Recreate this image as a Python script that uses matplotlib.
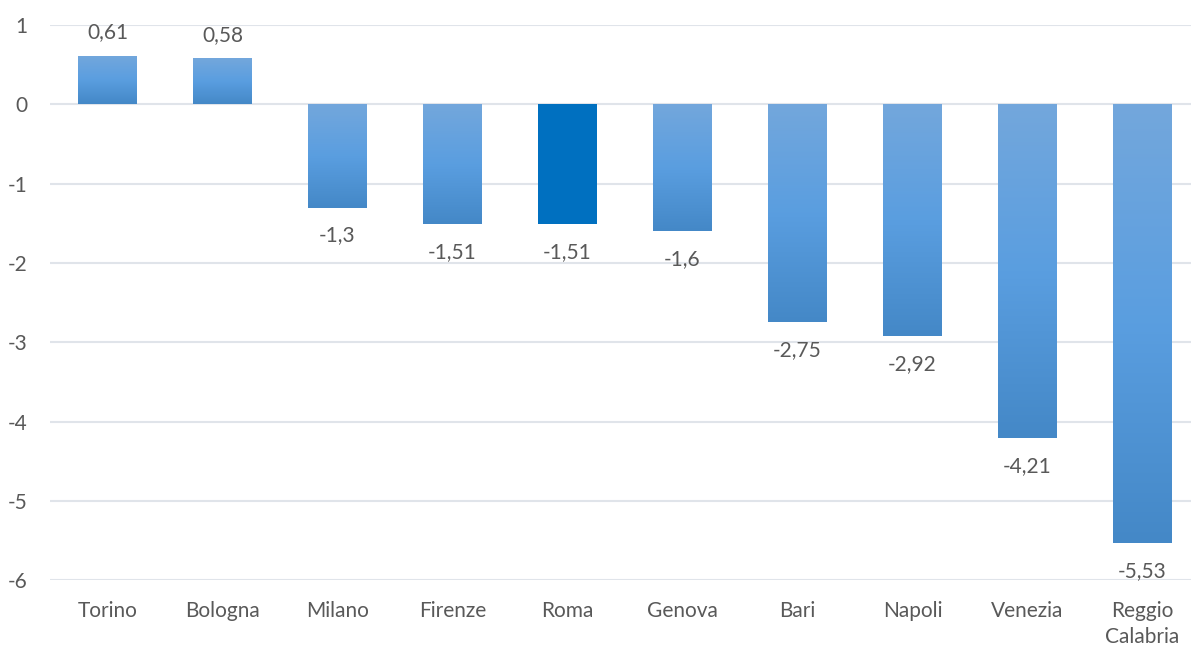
import numpy as np
import matplotlib
matplotlib.use("Agg")
from matplotlib import pyplot as plt
from matplotlib.colors import LinearSegmentedColormap

citta = ["Torino", "Bologna", "Milano", "Firenze", "Roma", "Genova",
         "Bari", "Napoli", "Venezia", "Reggio\nCalabria"]
valori = [0.61, 0.58, -1.3, -1.51, -1.51, -1.6, -2.75, -2.92, -4.21, -5.53]
evidenziata = "Roma"

plt.rcParams['font.family'] = ['Lato', 'DejaVu Sans']
plt.rcParams['axes.unicode_minus'] = False

grad = LinearSegmentedColormap.from_list(
    "excel_blue", ["#4488c7", "#5a9ee0", "#73a7dc"])

fig = plt.figure(figsize=(11.91, 6.46), dpi=100)
# l'asse prosegue oltre il bordo destro, come nell'originale
ax = fig.add_axes([0.042, 0.102, 0.9656, 0.859])

x = np.arange(len(citta))
bars = ax.bar(x, valori, width=0.513, color="none", edgecolor="none", zorder=3)

# riempimento a gradiente (chiaro in alto, scuro in basso)
g = np.linspace(0, 1, 256).reshape(-1, 1)
for b, nome in zip(bars, citta):
    if nome == evidenziata:
        b.set_facecolor("#0070c0")
        continue
    x0, y0 = b.get_x(), b.get_y()
    w, h = b.get_width(), b.get_height()
    lo, hi = min(y0, y0 + h), max(y0, y0 + h)
    im = ax.imshow(g, cmap=grad, aspect="auto", origin="lower",
                   extent=(x0, x0 + w, lo, hi), zorder=3)
    im.set_clip_path(b)

for xi, v in zip(x, valori):
    testo = f"{v:g}".replace(".", ",")
    if v >= 0:
        ax.annotate(testo, (xi, v), xytext=(0, 17), textcoords="offset points",
                    ha="center", va="center", fontsize=15, color="#595959")
    else:
        ax.annotate(testo, (xi, v), xytext=(0, -20), textcoords="offset points",
                    ha="center", va="center", fontsize=15, color="#595959")

ax.set_xlim(-0.5, len(citta) - 0.5)
ax.set_ylim(-6, 1)
ax.set_yticks(range(-6, 2))
ax.set_xticks(x)
ax.set_xticklabels(citta, linespacing=1.35)
ax.tick_params(axis="both", length=0, labelsize=15, labelcolor="#595959")
ax.tick_params(axis="y", pad=16)
ax.tick_params(axis="x", pad=15)
for s in ax.spines.values():
    s.set_visible(False)
ax.yaxis.grid(True, color="#e0e4ea", linewidth=1.5, zorder=0)
ax.set_axisbelow(True)

plt.savefig("out.png", dpi=100)
